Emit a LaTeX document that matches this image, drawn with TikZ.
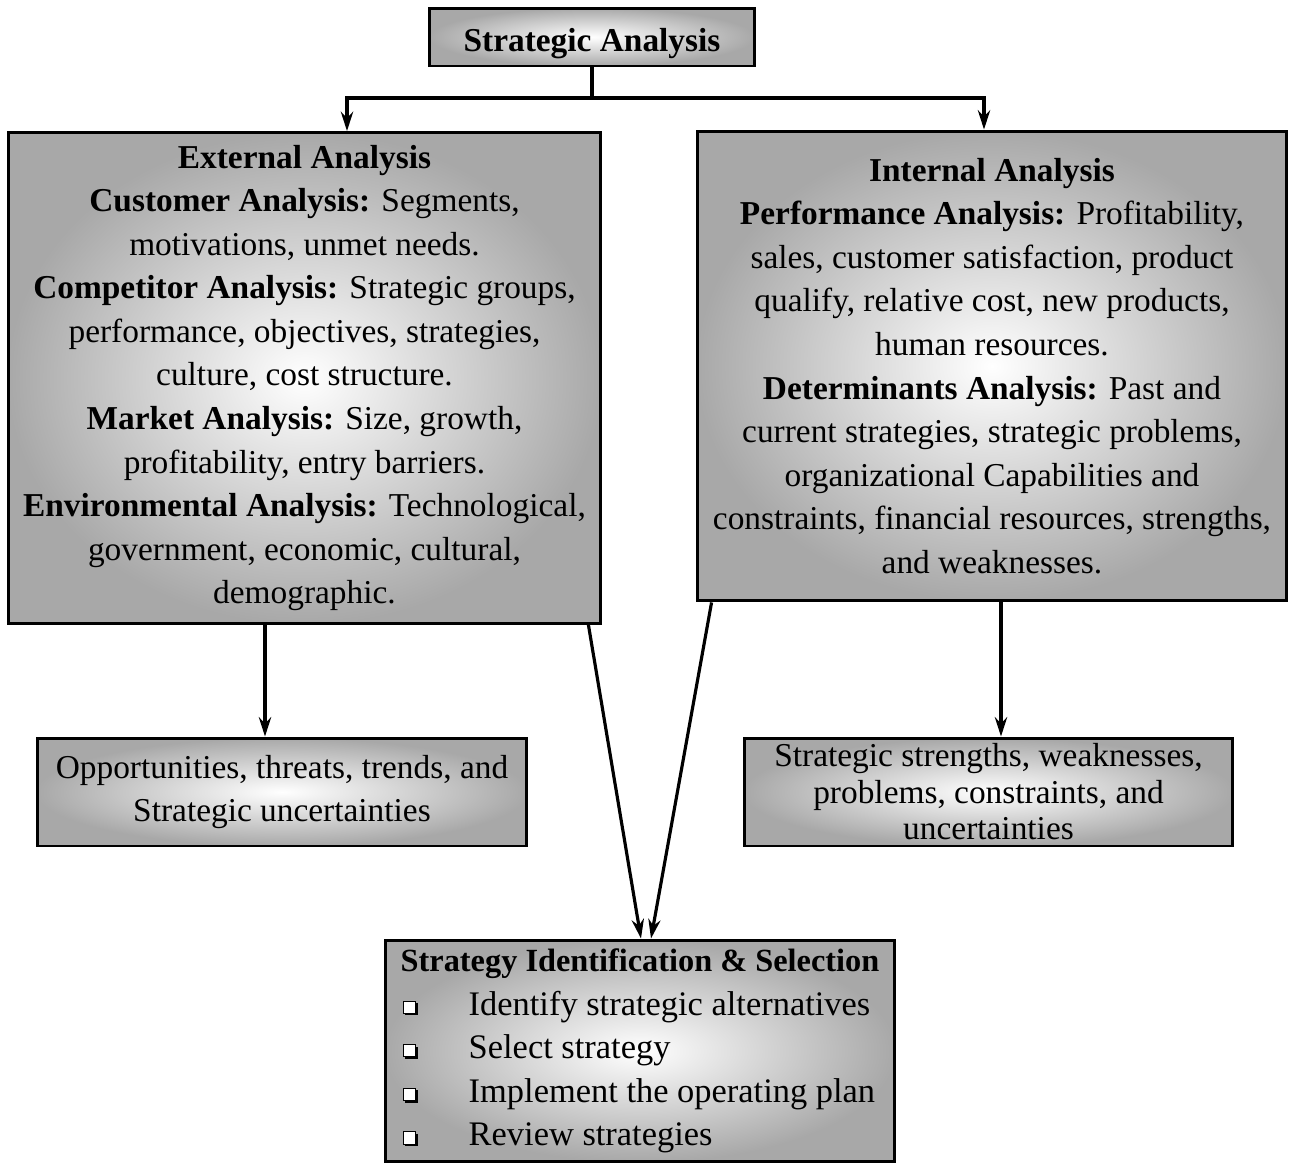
\documentclass[tikz,border=0pt]{standalone}
\usepackage{fontspec}
\setmainfont{Liberation Serif}
\usetikzlibrary{arrows.meta}

\tikzset{
  box/.style={draw=black, line width=1.7pt, shading=radial, inner color=white,
    outer color=black!34, inner sep=0pt, align=center,
    font=\fontsize{19}{24.8}\selectfont},
  link/.style={line width=1.8pt, -{Stealth[length=11pt,width=7pt]}}
}
% shadowed square for the list items
\newcommand{\boxbul}{\tikz[x=1pt,y=1pt,baseline=-1pt]{%
    \fill (1.2,-1.2) rectangle (8.2,5.8);
    \filldraw[fill=white, draw=black, line width=0.6pt] (0,0) rectangle (7,7);}}
\newcommand{\listitem}[1]{\makebox[1.36cm][l]{\hspace{0.04cm}\boxbul}{\fontsize{19.6}{24.8}\selectfont #1}}

\begin{document}
\begin{tikzpicture}[x=0.02cm, y=-0.02cm]
      \useasboundingbox (0,0) rectangle (1289,1163);
      %
      \node[box, minimum width=6.5cm, minimum height=1.16cm,
            text height=0.7cm, text depth=0.1cm] (sa) at (592,37)
        {\textbf{Strategic Analysis}};                        % top box
      %
      \node[box, minimum width=11.86cm, minimum height=9.82cm] (ext) at (304.5,378)
        {\textbf{External Analysis}\\
         \textbf{Customer Analysis:} Segments,\\
         motivations, unmet needs.\\
         \textbf{Competitor Analysis:} Strategic groups,\\
         performance, objectives, strategies,\\
         culture, cost structure.\\
         \textbf{Market Analysis:} Size, growth,\\
         profitability, entry barriers.\\
         \textbf{Environmental Analysis:} Technological,\\
         government, economic, cultural,\\
         demographic.};                                        % left column
      %
      \node[box, minimum width=11.8cm, minimum height=9.4cm] (int) at (992,366)
        {\textbf{Internal Analysis}\\
         \textbf{Performance Analysis:} Profitability,\\
         sales, customer satisfaction, product\\
         qualify, relative cost, new products,\\
         human resources.\\
         \textbf{Determinants Analysis:} Past and\\
         current strategies, strategic problems,\\
         organizational Capabilities and\\
         constraints, financial resources, strengths,\\
         and weaknesses.};                                     % right column
      %
      \node[box, minimum width=9.8cm, minimum height=2.16cm] (opp) at (282,792)
        {Opportunities, threats, trends, and\\
         Strategic uncertainties};
      %
      \node[box, minimum width=9.78cm, minimum height=2.16cm,
            font=\fontsize{19}{20.8}\selectfont] (sw) at (988.5,792)
        {Strategic strengths, weaknesses,\\
         problems, constraints, and\\
         uncertainties};
      %
      \node[box, align=left, minimum width=10.2cm, minimum height=4.44cm] (sel) at (640,1051)
        {{\fontsize{18.4}{24.8}\selectfont\textbf{Strategy Identification \& Selection}}\\
         \listitem{Identify strategic alternatives}\\
         \listitem{Select strategy}\\
         \listitem{Implement the operating plan}\\
         \listitem{Review strategies}};                        % bottom box
      %
      \coordinate (jl) at (347,98);                           % split below top box
      \coordinate (jr) at (984,98);
      \draw[link] (sa.south) |- (jl) -- (jl |- ext.north);
      \draw[link] (sa.south) |- (jr) -- (jr |- int.north);
      %
      \coordinate (dl) at (265,700);                          % drops to the results
      \coordinate (dr) at (1001,700);
      \draw[link] (dl |- ext.south) -- (dl |- opp.north);
      \draw[link] (dr |- int.south) -- (dr |- sw.north);
      %
      \draw[link] ([xshift=-0.28cm]ext.south east) -- ([xshift=0.02cm]sel.north);
      \draw[link] ([xshift=0.32cm]int.south west) -- ([xshift=0.22cm]sel.north);
      %
\end{tikzpicture}
\end{document}
